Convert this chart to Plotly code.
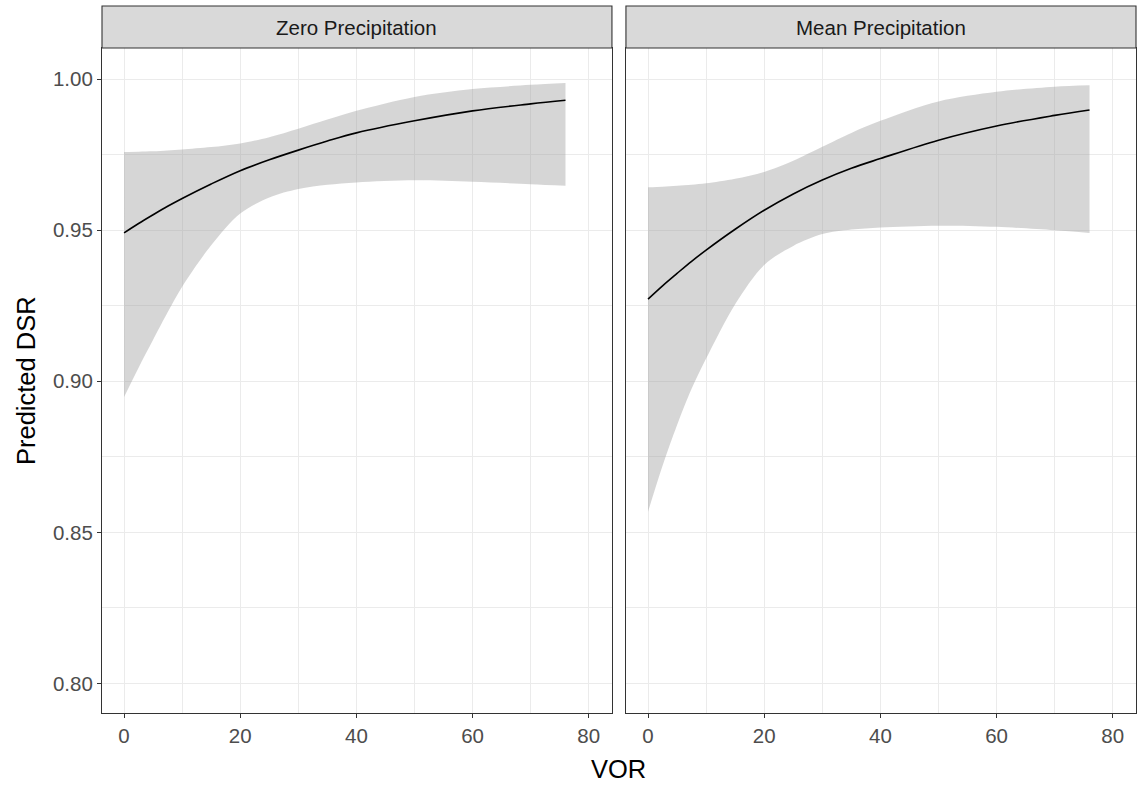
import plotly.graph_objects as go

# ---- data ----
VOR = [0, 2.5, 5, 7.5, 10, 15, 20, 25, 30, 35, 40, 50, 60, 70, 76]

zero_fit   = [0.9491, 0.9522, 0.9551, 0.9579, 0.9605, 0.9653, 0.9697, 0.9733, 0.9765, 0.9795, 0.9822, 0.9862, 0.9895, 0.9918, 0.9930]
zero_upper = [0.9759, 0.9760, 0.9761, 0.9764, 0.9767, 0.9775, 0.9787, 0.9808, 0.9836, 0.9866, 0.9895, 0.9941, 0.9967, 0.9981, 0.9987]
zero_lower = [0.8948, 0.9045, 0.9137, 0.9228, 0.9313, 0.9450, 0.9555, 0.9608, 0.9636, 0.9650, 0.9658, 0.9665, 0.9660, 0.9652, 0.9647]

mean_fit   = [0.9272, 0.9316, 0.9357, 0.9397, 0.9434, 0.9503, 0.9566, 0.9620, 0.9666, 0.9705, 0.9737, 0.9798, 0.9845, 0.9880, 0.9898]
mean_upper = [0.9642, 0.9644, 0.9647, 0.9650, 0.9655, 0.9670, 0.9693, 0.9730, 0.9776, 0.9822, 0.9862, 0.9926, 0.9958, 0.9975, 0.9980]
mean_lower = [0.8568, 0.8720, 0.8855, 0.8975, 0.9075, 0.9255, 0.9385, 0.9448, 0.9487, 0.9502, 0.9509, 0.9515, 0.9511, 0.9500, 0.9491]

facets = ["Zero Precipitation", "Mean Precipitation"]
x_ticks = [0, 20, 40, 60, 80]
y_ticks = [0.80, 0.85, 0.90, 0.95, 1.00]

# ---- layout geometry ----
W, H = 1139, 785
ML, MR, MT, MB = 101.5, 3, 6, 72
PW = W - ML - MR
PH = H - MT - MB

def px_x(X):
    return (X - ML) / PW

def px_y(Y):
    return (H - MB - Y) / PH

dom1 = [0, px_x(611.7)]
dom2 = [px_x(625.7), 1]
panel_top = px_y(48)

FONT = "Liberation Sans, Arial, sans-serif"
RIBBON = "rgba(153,153,153,0.4)"
BORDER = "#333333"
GRID = "#EBEBEB"

fig = go.Figure()

series = [(zero_fit, zero_upper, zero_lower), (mean_fit, mean_upper, mean_lower)]
for i, (fit, up, lo) in enumerate(series):
    xa = "x" if i == 0 else "x2"
    ya = "y" if i == 0 else "y2"
    fig.add_trace(go.Scatter(x=VOR, y=lo, xaxis=xa, yaxis=ya, mode="lines",
                             line=dict(width=0, color=RIBBON, shape="spline", smoothing=0.9),
                             showlegend=False, hoverinfo="skip"))
    fig.add_trace(go.Scatter(x=VOR, y=up, xaxis=xa, yaxis=ya, mode="lines",
                             line=dict(width=0, color=RIBBON, shape="spline", smoothing=0.9),
                             fill="tonexty", fillcolor=RIBBON, showlegend=False,
                             hoverinfo="skip"))
    fig.add_trace(go.Scatter(x=VOR, y=fit, xaxis=xa, yaxis=ya, mode="lines",
                             line=dict(width=1.6, color="black", shape="spline"),
                             showlegend=False))

xaxis_common = dict(
    range=[-3.8, 84.0], tickvals=x_ticks, ticktext=[str(v) for v in x_ticks],
    showgrid=True, gridcolor=GRID, gridwidth=1.2,
    minor=dict(showgrid=True, dtick=10, tick0=0, gridcolor=GRID, gridwidth=0.6),
    ticks="outside", ticklen=4, tickwidth=1.1, tickcolor=BORDER,
    tickfont=dict(family=FONT, size=20.5, color="#4D4D4D"),
    showline=True, linecolor=BORDER, linewidth=1.1, mirror=True,
    zeroline=False, fixedrange=True,
)
yaxis_common = dict(
    range=[0.7902, 1.0103], tickvals=y_ticks, ticktext=["%.2f" % v for v in y_ticks],
    showgrid=True, gridcolor=GRID, gridwidth=1.2,
    minor=dict(showgrid=True, dtick=0.025, tick0=0.8, gridcolor=GRID, gridwidth=0.6),
    showline=True, linecolor=BORDER, linewidth=1.1, mirror=True,
    zeroline=False, fixedrange=True, domain=[0, panel_top],
)

fig.update_layout(
    width=W, height=H,
    margin=dict(l=ML, r=MR, t=MT, b=MB, pad=0),
    paper_bgcolor="white", plot_bgcolor="white",
    showlegend=False,
    xaxis=dict(domain=dom1, anchor="y", **xaxis_common),
    xaxis2=dict(domain=dom2, anchor="y2", **xaxis_common),
    yaxis=dict(anchor="x", ticks="outside", ticklen=4, tickwidth=1.1, tickcolor=BORDER,
               tickfont=dict(family=FONT, size=20.5, color="#4D4D4D"), **yaxis_common),
    yaxis2=dict(anchor="x2", showticklabels=False, ticks="", **yaxis_common),
)

# strips
shapes = []
annotations = []
for dom, label in zip([dom1, dom2], facets):
    shapes.append(dict(type="rect", xref="paper", yref="paper",
                       x0=dom[0], x1=dom[1], y0=panel_top, y1=px_y(6),
                       fillcolor="#D9D9D9", line=dict(color=BORDER, width=1.1), layer="above"))
    annotations.append(dict(text=label, xref="paper", yref="paper",
                            x=(dom[0] + dom[1]) / 2, y=px_y(27.5),
                            xanchor="center", yanchor="middle", showarrow=False,
                            font=dict(family=FONT, size=20.5, color="#1A1A1A")))

annotations.append(dict(text="VOR", xref="paper", yref="paper",
                        x=px_x(618.7), y=px_y(769), xanchor="center", yanchor="middle",
                        showarrow=False, font=dict(family=FONT, size=25.5, color="black")))
annotations.append(dict(text="Predicted DSR", xref="paper", yref="paper",
                        x=px_x(25), y=px_y(380.5), xanchor="center", yanchor="middle",
                        textangle=-90, showarrow=False,
                        font=dict(family=FONT, size=25.5, color="black")))

fig.update_layout(shapes=shapes, annotations=annotations)

fig.write_html("out.html", config={"displayModeBar": False},
               post_script="document.body.style.margin='0px';document.body.style.overflow='hidden';")
